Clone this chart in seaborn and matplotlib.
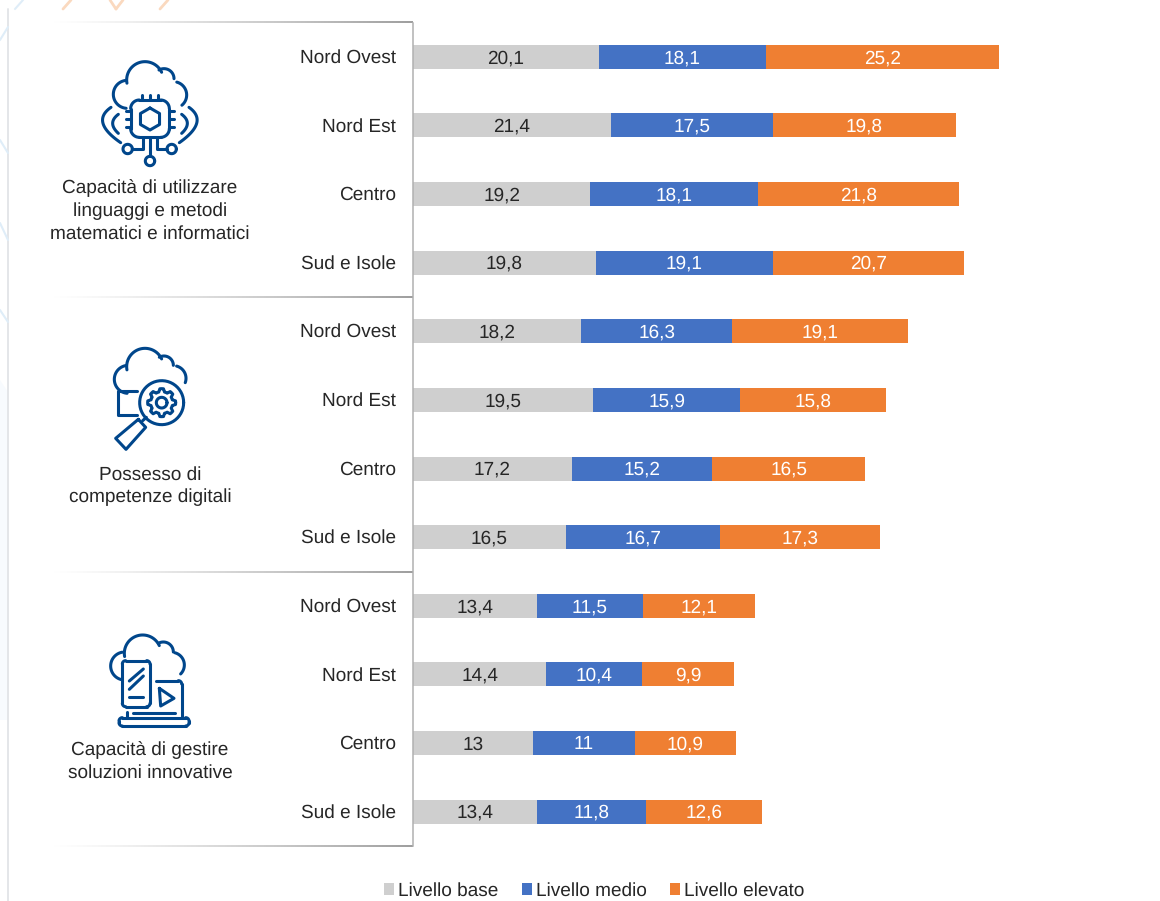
#!/usr/bin/env python3
import numpy as np
import pandas as pd
import matplotlib
matplotlib.use('Agg')
import matplotlib.pyplot as plt
from matplotlib.patches import Patch, Polygon
from matplotlib.transforms import ScaledTranslation
import seaborn as sns

regions = ['Nord Ovest', 'Nord Est', 'Centro', 'Sud e Isole']
groups = [
    'Capacità di utilizzare\nlinguaggi e metodi\nmatematici e informatici',
    'Possesso di\ncompetenze digitali',
    'Capacità di gestire\nsoluzioni innovative',
]
livello_base = [20.1, 21.4, 19.2, 19.8, 18.2, 19.5, 17.2, 16.5, 13.4, 14.4, 13, 13.4]
livello_medio = [18.1, 17.5, 18.1, 19.1, 16.3, 15.9, 15.2, 16.7, 11.5, 10.4, 11, 11.8]
livello_elevato = [25.2, 19.8, 21.8, 20.7, 19.1, 15.8, 16.5, 17.3, 12.1, 9.9, 10.9, 12.6]
series_names = ['Livello base', 'Livello medio', 'Livello elevato']
series_colors = ['#CFCFCF', '#4472C4', '#EF7F32']

ICON = '#00468B'
TEXT = '#262626'
W, H = 1160, 901

sns.set_theme(style='white')
plt.rcParams['font.family'] = ['Liberation Sans', 'DejaVu Sans']
plt.rcParams['text.hinting'] = 'no_hinting'
plt.rcParams['text.hinting_factor'] = 1
FS = 14.0

df = pd.DataFrame({
    'row': [f'{g}-{r}' for g in range(len(groups)) for r in regions],
    'base': livello_base,
    'medio': livello_medio,
    'elevato': livello_elevato,
})
df['c1'] = df['base']
df['c2'] = df['c1'] + df['medio']
df['c3'] = df['c2'] + df['elevato']

fig = plt.figure(figsize=(W / 100, H / 100), dpi=100, facecolor='white')

# pixel overlay for the page decoration, icons and group captions
bg = fig.add_axes([0, 0, 1, 1], zorder=0)
bg.set_xlim(0, W)
bg.set_ylim(H, 0)
bg.axis('off')


def stroke(xs, ys, off=0, lw=2.2, color=ICON):
    # coordinates come from the 3x zoom crops
    bg.plot(np.array(xs) / 3, (np.array(ys)) / 3 + off, color=color, lw=lw,
            solid_capstyle='round', solid_joinstyle='round')


def arc(cx, cy, r, a0, a1, off=0, lw=2.2):
    t = np.radians(np.linspace(a0, a1, 50))
    stroke(cx + r * np.cos(t), cy - r * np.sin(t), off, lw)


def curve(p0, m, p1, off=0, lw=2.2):
    p0, m, p1 = np.array(p0), np.array(m), np.array(p1)
    c = 2 * m - (p0 + p1) / 2
    t = np.linspace(0, 1, 30)[:, None]
    pts = (1 - t) ** 2 * p0 + 2 * t * (1 - t) * c + t ** 2 * p1
    stroke(pts[:, 0], pts[:, 1], off, lw)


def round_rect(x0, y0, x1, y1, r, off=0, lw=2.2):
    stroke([x0 + r, x1 - r], [y0, y0], off, lw)
    stroke([x0 + r, x1 - r], [y1, y1], off, lw)
    stroke([x0, x0], [y0 + r, y1 - r], off, lw)
    stroke([x1, x1], [y0 + r, y1 - r], off, lw)
    arc(x1 - r, y0 + r, r, 0, 90, off, lw)
    arc(x0 + r, y0 + r, r, 90, 180, off, lw)
    arc(x0 + r, y1 - r, r, 180, 270, off, lw)
    arc(x1 - r, y1 - r, r, 270, 360, off, lw)


def cloud(left, top, small, right, off):
    arc(*left, off=off)
    arc(*top, off=off)
    arc(*small, off=off)
    arc(*right, off=off)


def fade_line(y):
    grad = np.ones((1, 256, 4))
    grad[..., :3] = 0.62
    grad[..., 3] = np.linspace(0, 1, 256) ** 1.2
    bg.imshow(grad, extent=(50, 413, y + 0.9, y - 0.9), aspect='auto', zorder=1)


def draw_page():
    # faint template shapes behind the white panel
    bg.add_patch(Polygon([(0, 380), (8, 392), (8, 720), (0, 720)], color='#F8FBFE', lw=0))
    bg.plot([8, 8], [9, H], color='#E4E6E9', lw=1.4)
    for seg in [((0, 40), (8, 27)), ((0, 140), (8, 153)), ((0, 223), (8, 240)),
                ((0, 310), (8, 322)), ((15, 9), (23, 0))]:
        bg.plot(*zip(*seg), color='#DFEDF8', lw=1.5)
    for seg in [((63, 9), (71, 0)), ((110, 0), (116, 9)), ((116, 9), (123, 0)),
                ((160, 9), (168, 0))]:
        bg.plot(*zip(*seg), color='#FAD9BF', lw=2.0)
    for y in [22.5, 297, 572, 846]:
        fade_line(y)


def icon_chip():
    cloud((382, 283, 42, 265, 95), (435, 240, 55, 190, 25), (492, 236, 30, 120, 0),
          (520, 285, 40, 75, -50), 0)
    round_rect(392, 300, 508, 412, 26)
    t = np.radians(np.arange(90, 451, 60))
    stroke(450 + 33 * np.cos(t), 357 - 33 * np.sin(t))
    for x in [427, 450, 473]:
        stroke([x, x], [285, 300])
    for y in [333, 357, 381]:
        stroke([377, 392], [y, y])
        stroke([508, 523], [y, y])
    curve((355, 343), (338, 370), (355, 400))
    curve((333, 322), (309, 370), (362, 428))
    curve((545, 343), (562, 370), (545, 400))
    curve((567, 322), (590, 370), (538, 428))
    stroke([450, 450], [412, 469])
    stroke([428, 428, 398], [412, 447, 447])
    stroke([472, 472, 501], [412, 447, 447])
    for cx, cy in [(450, 483), (383, 447), (515, 447)]:
        arc(cx, cy, 14, 0, 360)


def icon_gear():
    off = 300
    cloud((385, 238, 42, 265, 100), (435, 200, 55, 190, 25), (492, 196, 28, 120, 0),
          (520, 235, 38, 75, -20), off)
    stroke([412, 355, 355, 412], [273, 273, 345, 345], off)
    arc(485, 308, 66, 0, 360, off)
    arc(485, 308, 16, 0, 360, off)
    ang = np.radians(np.arange(0, 361, 7.5))
    rad = 33 + 9 * (np.cos(8 * ang) > 0)
    stroke(485 + rad * np.cos(ang), 308 - rad * np.sin(ang), off)
    stroke([415, 437, 378, 347, 415], [358, 382, 448, 415, 358], off)
    stroke([428, 439], [362, 352], off)


def icon_device():
    off = 600
    cloud((374, 198, 42, 255, 100), (428, 160, 55, 190, 25), (490, 156, 30, 120, 0),
          (515, 195, 38, 75, -45), off)
    round_rect(367, 182, 450, 320, 10, off)
    stroke([388, 430], [243, 207], off)
    stroke([388, 430], [268, 228], off)
    stroke([388, 430], [292, 292], off)
    stroke([467, 535], [242, 242], off)
    arc(535, 252, 10, 0, 90, off)
    stroke([545, 545], [252, 352], off)
    stroke([478, 522, 482, 478], [265, 295, 318, 265], off)
    stroke([398, 525], [338, 338], off)
    stroke([381, 381], [335, 352], off)
    round_rect(357, 353, 567, 378, 10, off)


draw_page()
icon_chip()
icon_gear()
icon_device()
bg.set_xlim(0, W)
bg.set_ylim(H, 0)

# group captions
for caption, y in zip(groups, [211, 486, 761]):
    bg.text(150, y, caption, ha='center', va='center', fontsize=FS,
            color=TEXT, linespacing=1.36)

# main chart
ax = fig.add_axes([413 / W, 1 - 846 / H, (W - 413) / W, (846 - 22.5) / H], zorder=1)
ax.patch.set_alpha(0)
for col, color in zip(['c3', 'c2', 'c1'], series_colors[::-1]):
    sns.barplot(data=df, y='row', x=col, color=color, saturation=1, width=0.35,
                orient='h', linewidth=0, ax=ax)

ax.set_xlim(0, (W - 413) / 9.243)
ax.set_ylim(len(df) - 0.5, -0.5)
ax.set_xlabel('')
ax.set_ylabel('')
ax.set_xticks([])
ax.set_yticks(range(len(df)))
ax.set_yticklabels(regions * len(groups), fontsize=FS, color=TEXT)
ax.tick_params(axis='y', length=0, pad=12.2)
nudge = ScaledTranslation(0, 1 / 100, fig.dpi_scale_trans)
for lab in ax.get_yticklabels():
    lab.set_transform(lab.get_transform() + nudge)
sns.despine(ax=ax, top=True, right=True, bottom=True, left=False)
ax.spines['left'].set_color('#B0B0B0')
ax.spines['left'].set_linewidth(1.1)


def fmt(v):
    return f'{v:g}'.replace('.', ',')


for i, row in df.iterrows():
    ax.text(row['c1'] / 2, i + 0.02, fmt(row['base']), ha='center', va='center',
            fontsize=FS, color=TEXT)
    ax.text((row['c1'] + row['c2']) / 2, i + 0.02, fmt(row['medio']), ha='center',
            va='center', fontsize=FS, color='white')
    ax.text((row['c2'] + row['c3']) / 2, i + 0.02, fmt(row['elevato']), ha='center',
            va='center', fontsize=FS, color='white')

handles = [Patch(facecolor=c, edgecolor='none', label=n)
           for c, n in zip(series_colors, series_names)]
leg = fig.legend(handles=handles, loc='center', bbox_to_anchor=(594 / W, 1 - 891 / H),
                 ncol=3, frameon=False, fontsize=FS, handlelength=0.52, handleheight=0.52,
                 handletextpad=0.2, columnspacing=1.2, borderpad=0, labelcolor=TEXT)

fig.savefig('out.png', dpi=100)
